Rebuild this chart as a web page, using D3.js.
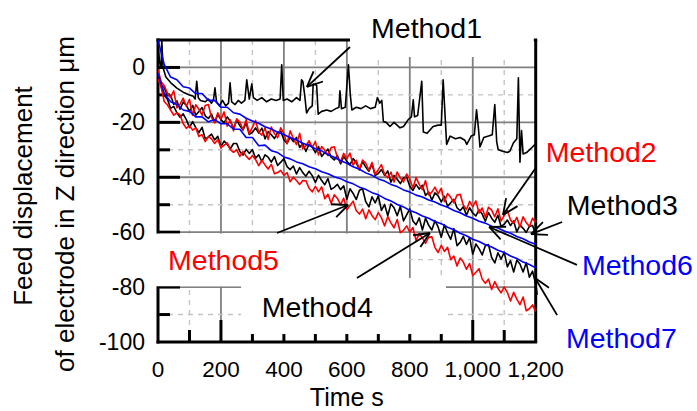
<!DOCTYPE html>
<html><head><meta charset="utf-8">
<script src="https://cdn.jsdelivr.net/npm/d3@7"></script>
<style>
body{margin:0;background:#fff}
svg{display:block}
text{font-family:"Liberation Sans",Arial,sans-serif}
</style>
</head><body>
<svg id="chart" width="697" height="411"></svg>
<script>
// ---------------- data ----------------
// Method1 (black, spiky) — irregular sampling
const m1Time = [0,5,10,12,16,25,40,60,80,100,112,118,123,128,135,150,160,170,176,181,186,195,205,215,224,229,234,245,255,265,276,282,290,298,303,315,330,345,360,375,388,393,398,410,425,440,451,456,460,466,472,480,490,493,504,509,520,536,550,565,575,578,583,595,605,611,616,630,645,660,675,690,697,705,711,716,725,737,750,769,780,795,805,811,815,825,838,843,855,874,890,900,906,917,928,945,960,975,981,995,1005,1012,1018,1023,1035,1050,1062,1070,1076,1081,1095,1110,1118,1129,1140,1145,1150,1155,1160,1171,1185,1198,1200];
const m1Value = [8,2,0,10,0,-3.5,-5.5,-7.5,-9,-10,-10.5,-11.5,-5,-11,-12,-12.5,-11.5,-13,-12,-7.4,-12.5,-14,-12,-14,-13,-5.6,-12.5,-13.5,-12,-13,-12,-4.5,-11.5,-6,-11,-12,-11,-12.5,-11.5,-12,-11.5,1,-12,-11.5,-12.5,-11,-12,-4.5,-5,-10,-16.6,-15,-14,-6,-6.5,-17,-16,-15.5,-16,-15,-14.5,-8.5,-15,-14.5,1,-10,-15.5,-14.5,-15,-14,-15,-14.5,-11,-13,-12,-19.7,-20,-21.5,-20,-22,-21.5,-19,-18,-11.8,-18,-17.5,-5,-23.5,-24,-21.5,-21,-21,-4.5,-28,-25,-26,-25.5,-26.5,-28,-25,-24.5,-15.4,-22,-29,-25.5,-25,-24.5,-13.5,-27,-30,-30.5,-31,-30.5,-27.5,-26,-3.8,-34.5,-23,-31.5,-31,-29.5,-28,-27.7];

// noisy series sampled every 10 s
const noisyTime = d3.range(0, 1201, 10);
const m2Value = [ // Method2, red (upper)
 -0.7,-5.3,-6.6,-9.4,-11,-8.5,-14.7,-13.4,-11.2,-14.1,
 -11.6,-17.4,-13.6,-15.2,-17.4,-13.9,-13.5,-18.2,-20.2,-16.5,
 -18.8,-16.2,-21.4,-19.1,-23.1,-18.7,-19.9,-22.6,-19,-24.1,
 -21.7,-19.3,-23.5,-24.7,-22,-26.2,-21.7,-24.1,-25.6,-22,
 -24.1,-27.8,-23.1,-25.9,-28.1,-24,-29.6,-28.5,-26.7,-29.1,
 -27,-31.9,-28.8,-30.2,-32.1,-29.2,-28.9,-32.8,-34.4,-31.3,
 -33.2,-31.2,-35.6,-33.8,-37.3,-33.7,-34.9,-37.4,-34.6,-39,
 -37.2,-35.4,-39,-40.2,-38.1,-41.7,-38.1,-40.3,-41.7,-38.8,
 -40.7,-43.9,-40.1,-42.6,-44.5,-41.2,-46.4,-45.4,-43.6,-46,
 -44,-48.9,-45.9,-47.3,-49.3,-46.5,-46.2,-50.1,-51.8,-48.8,
 -50.7,-48.6,-53,-51.2,-54.6,-50.9,-52,-54.4,-51.5,-55.9,
 -54,-52.1,-55.6,-56.7,-54.6,-58.1,-54.4,-56.5,-57.9,-54.9,
 -56.7];
const m3Value = [ // Method3, black (upper)
 -2.4,-6.4,-7.5,-10.1,-10.1,-13.4,-12.2,-15.2,-12.6,-13.8,
 -16,-13.8,-17.4,-16,-14.6,-17.6,-18.6,-17,-20,-17.2,
 -19,-20.2,-18,-19.6,-22.2,-19.2,-21.2,-22.8,-20.2,-24.4,
 -23.6,-22,-23.9,-22.1,-26,-23.4,-24.5,-25.9,-23.6,-23.2,
 -26.3,-27.7,-25.4,-27,-25.5,-29.1,-27.8,-30.6,-27.9,-28.9,
 -31,-28.8,-32.4,-31,-29.7,-32.7,-33.7,-32.1,-35.1,-32.4,
 -34.2,-35.4,-33.2,-34.7,-37.3,-34.3,-36.3,-37.8,-35.2,-39.4,
 -38.6,-37.2,-39.3,-37.7,-41.8,-39.4,-40.7,-42.3,-40.2,-40,
 -43.3,-44.8,-42.6,-44.3,-42.9,-46.6,-45.4,-48.3,-45.7,-46.8,
 -49,-46.9,-50.6,-49.3,-48,-51.1,-52.2,-50.7,-53.8,-51.1,
 -53,-54.1,-51.9,-53.4,-56,-52.9,-54.9,-56.4,-53.8,-57.9,
 -57.1,-55.6,-57.6,-55.9,-59.9,-57.4,-58.6,-60.1,-57.9,-57.6,
 -60.8];
const m4Value = [ // Method4, black (lower)
 -2,-6.8,-10.1,-11.6,-14.9,-14.2,-16.5,-18.2,-16.9,-19,
 -21.9,-19.7,-21.9,-23.7,-21.8,-26,-25.4,-24.3,-26.4,-25.1,
 -28.8,-26.8,-28,-29.6,-27.7,-27.7,-30.6,-31.9,-29.8,-31.3,
 -29.9,-33.1,-31.8,-34.3,-31.8,-32.7,-34.5,-32.5,-35.7,-34.5,
 -33.2,-36.1,-37.2,-35.9,-38.8,-36.5,-38.3,-39.6,-37.8,-39.4,
 -41.9,-39.3,-41.2,-42.7,-40.5,-44.4,-43.7,-42.6,-44.5,-43.1,
 -48,-44.2,-45.9,-48.1,-44.7,-44.2,-48.9,-50.8,-47.1,-49.3,
 -46.8,-52.1,-49.9,-54,-49.7,-51.1,-54,-50.6,-55.9,-53.7,
 -51.5,-55.9,-57.3,-54.8,-59.2,-54.9,-57.5,-59.2,-55.8,-58.1,
 -61.9,-57.3,-60.3,-62.6,-58.7,-64.9,-63.7,-61.5,-64.5,-62,
 -68,-64.3,-66,-68.3,-64.9,-64.5,-69.2,-71.2,-67.5,-69.8,
 -67.3,-72.6,-70.4,-74.5,-70.2,-71.6,-74.5,-71.1,-76.4,-74.2,
 -79];
const m5Value = [ // Method5, red (lower)
 -4.2,-7.2,-12.5,-13.6,-15.5,-17.4,-16.5,-17.2,-20.4,-22.2,
 -21.2,-22.8,-22,-25.1,-24.5,-27,-25.1,-26,-27.7,-26.3,
 -29.2,-28.3,-27.5,-29.9,-30.9,-29.9,-32.4,-30.6,-32.3,-33.5,
 -32.1,-33.6,-35.8,-33.8,-35.5,-37,-35.3,-38.7,-38.3,-37.5,
 -39.3,-38.3,-41.6,-40,-41.2,-42.6,-41.2,-41.3,-44,-45.3,
 -43.3,-45.3,-43.5,-47.8,-46.2,-49.5,-46.4,-47.7,-50,-47.6,
 -51.8,-50.3,-48.7,-52.2,-53.4,-51.6,-55.1,-51.9,-54,-55.4,
 -52.9,-54.8,-57.7,-54.3,-56.6,-58.4,-55.4,-60.2,-59.3,-57.7,
 -60,-58.3,-63.1,-60.5,-62.1,-64.1,-61.8,-61.7,-65.6,-67.4,
 -64.8,-67,-65.5,-70,-68.7,-72.3,-69.4,-70.9,-73.5,-71.4,
 -75.8,-74.6,-73.3,-77.1,-78.6,-77.1,-80.9,-78,-80.4,-82.1,
 -79.9,-82,-85.1,-81.9,-84.4,-86.4,-83.6,-88.6,-87.9,-86.5,
 -89];

// smoother (blue) series sampled every 20 s
const smoothTime = d3.range(0, 1201, 20);
const m6Value = [ // Method6, blue (upper)
 10,1,-3.5,-4.5,-7,-7.5,-9.5,-9.5,-12,-12,
 -14.5,-14.5,-16.5,-17,-18.5,-19.5,-20.3,-21.6,-22.4,-23.6,
 -24.4,-25.6,-26.4,-27.6,-28.4,-29.6,-30.4,-31.8,-32.7,-34,
 -34.9,-36.2,-37.1,-38.4,-39.3,-40.6,-41.4,-42.6,-43.4,-44.6,
 -45.4,-46.5,-47.2,-48.3,-49,-50.1,-50.9,-52.1,-52.9,-54.1,
 -54.9,-56,-56.7,-57.8,-58.5,-59.6,-60.4,-61.6,-62.4,-63.6,
 -64.4];
const m7Value = [ // Method7, blue (lower)
 -2,-9.5,-12.5,-13.5,-15.5,-16,-18,-18,-19.8,-19,
 -20.5,-20.5,-22.5,-22.5,-25.5,-25.5,-28.5,-28.3,-30.3,-31,
 -32.6,-33.3,-34.4,-35.1,-36.2,-36.9,-38,-38.7,-39.8,-40.5,
 -41.6,-42.4,-43.6,-44.4,-45.6,-46.4,-47.7,-48.6,-49.9,-50.8,
 -52.1,-52.9,-54.1,-54.9,-56.1,-56.9,-58.2,-59.1,-60.4,-61.3,
 -62.6,-63.4,-64.6,-65.4,-66.6,-67.4,-68.7,-69.6,-70.9,-71.8,
 -73];

const xTicks = [0,200,400,600,800,1000,1200];
const xTickLabels = ["0","200","400","600","800","1,000","1,200"];
const yTicks = [0,-20,-40,-60,-80,-100];
const yTickLabels = ["0","-20","-40","-60","-80","-100"];
const xTitle = "Time s";
const yTitle1 = "Feed displacement";
const yTitle2 = "of electrode in Z direction \u03bcm";

// method labels (left/baseline, data units) and arrows (from -> to, data units)
const labelText  = ["Method1","Method2","Method3","Method4","Method5","Method6","Method7"];
const labelColor = ["#000","#ff0000","#000","#000","#ff0000","#0000ff","#0000ff"];
const labelT     = [677, 1232, 1299, 330, 32, 1347, 1296];
const labelV     = [10.7, -34.4, -53.7, -90.9, -73.8, -75.6, -102.2];
const arrowFrom  = [[610,7.45],[1200,-36.6],[1284,-56.3],[632,-76.7],[378,-60.3],[1331,-71.9],[1268,-90.2]];
const arrowTo    = [[473,-7.1],[1096,-53.7],[1185,-60.7],[864,-60.3],[604,-50.1],[1052,-58.1],[1198,-76.7]];

// white label boxes that mask grid/frame (data units)
const maskBoxes = [
  {t0:610, t1:1194, v0:30, v1:3.8},
  {t0:-10, t1:797, v0:-60.5, v1:-79.7},
  {t0:264, t1:915, v0:-76.7, v1:-97.1}
];

// ---------------- drawing ----------------
const svg = d3.select("#chart");
const x = d3.scaleLinear([0,1200],[158,535.7]);
const y = d3.scaleLinear([-100,10],[342,40]);

// grid
const g = svg.append("g");
d3.range(100,1200,100).forEach(t=>{
  const major = t%200===0;
  g.append("line").attr("x1",x(t)).attr("x2",x(t)).attr("y1",y(10)).attr("y2",y(-100))
   .attr("stroke",major?"#808080":"#c4c4c4").attr("stroke-width",major?1.8:1.4)
   .attr("stroke-dasharray",major?null:"5,5");
});
d3.range(-90,10,10).forEach(v=>{
  const major = v%20===0;
  g.append("line").attr("x1",x(0)).attr("x2",x(1200)).attr("y1",y(v)).attr("y2",y(v))
   .attr("stroke",major?"#808080":"#c4c4c4").attr("stroke-width",major?1.8:1.4)
   .attr("stroke-dasharray",major?null:"5,5");
});

// inward ticks
const tk = svg.append("g").attr("stroke","#000").attr("stroke-width",3);
d3.range(100,1200,100).forEach(t=>{
  const L = t%200===0?22:12;
  tk.append("line").attr("x1",x(t)).attr("x2",x(t)).attr("y1",y(-100)).attr("y2",y(-100)-L);
});
d3.range(-90,10,10).forEach(v=>{
  const L = v%20===0?22:12;
  tk.append("line").attr("x1",x(0)).attr("x2",x(0)+L).attr("y1",y(v)).attr("y2",y(v));
});

// frame (left, bottom, top)
const fr = svg.append("g").attr("stroke","#000").attr("stroke-width",3).attr("stroke-linecap","square");
fr.append("line").attr("x1",x(0)).attr("x2",x(0)).attr("y1",y(10)).attr("y2",y(-100));
fr.append("line").attr("x1",x(0)).attr("x2",x(1200)).attr("y1",y(-100)).attr("y2",y(-100));
fr.append("line").attr("x1",x(0)).attr("x2",x(1200)).attr("y1",y(10)).attr("y2",y(10));

// masks
maskBoxes.forEach(b=>{
  svg.append("rect").attr("x",x(b.t0)).attr("y",y(b.v0))
    .attr("width",x(b.t1)-x(b.t0)).attr("height",y(b.v1)-y(b.v0)).attr("fill","#fff");
});
// right frame
svg.append("line").attr("x1",x(1200)).attr("x2",x(1200)).attr("y1",y(10)).attr("y2",y(-100))
  .attr("stroke","#000").attr("stroke-width",3);

// data lines
svg.append("clipPath").attr("id","clip").append("rect")
  .attr("x",x(0)).attr("y",y(10)).attr("width",x(1200)-x(0)).attr("height",y(-100)-y(10));
const dl = svg.append("g").attr("clip-path","url(#clip)").attr("fill","none")
  .attr("stroke-width",1.6).attr("stroke-linejoin","round");
const line = d3.line().x(d=>x(d[0])).y(d=>y(d[1]));
const zip = (ts,vs)=>ts.map((t,i)=>[t,vs[i]]);
const series = [
  {t:m1Time, v:m1Value, c:"#000"},
  {t:noisyTime, v:m3Value, c:"#000"},
  {t:noisyTime, v:m4Value, c:"#000"},
  {t:noisyTime, v:m2Value, c:"#ff0000"},
  {t:noisyTime, v:m5Value, c:"#ff0000"},
  {t:smoothTime, v:m6Value, c:"#0000ff"},
  {t:smoothTime, v:m7Value, c:"#0000ff"}
];
series.forEach(s=>{
  dl.append("path").attr("d",line(zip(s.t,s.v))).attr("stroke",s.c);
});

// arrows
const ar = svg.append("g").attr("stroke","#000").attr("stroke-width",1.8).attr("fill","none");
arrowFrom.forEach((f,i)=>{
  const to = arrowTo[i];
  const x1=x(f[0]), y1=y(f[1]), x2=x(to[0]), y2=y(to[1]);
  ar.append("line").attr("x1",x1).attr("y1",y1).attr("x2",x2).attr("y2",y2);
  const ang = Math.atan2(y1-y2, x1-x2), L=17, a=0.42;
  [ang-a, ang+a].forEach(b=>{
    ar.append("line").attr("x1",x2).attr("y1",y2)
      .attr("x2",x2+L*Math.cos(b)).attr("y2",y2+L*Math.sin(b));
  });
});

// labels
labelText.forEach((s,i)=>{
  svg.append("text").attr("x",x(labelT[i])).attr("y",y(labelV[i]))
    .attr("font-size",28.5).attr("fill",labelColor[i]).text(s);
});

// tick labels
svg.append("g").selectAll("text").data(xTicks).join("text")
  .attr("x",d=>x(d)).attr("y",y(-100)+35).attr("text-anchor","middle")
  .attr("font-size",22.5).text((d,i)=>xTickLabels[i]);
svg.append("g").selectAll("text").data(yTicks).join("text")
  .attr("x",x(0)-13).attr("y",d=>y(d)).attr("dy","0.34em").attr("text-anchor","end")
  .attr("font-size",23).text((d,i)=>yTickLabels[i]);

// axis titles
svg.append("text").attr("x",(x(0)+x(1200))/2).attr("y",405.5).attr("text-anchor","middle")
  .attr("font-size",25).text(xTitle);
svg.append("text").attr("transform","translate(32,196) rotate(-90)").attr("text-anchor","middle")
  .attr("font-size",26).text(yTitle1);
svg.append("text").attr("transform","translate(74,204) rotate(-90)").attr("text-anchor","middle")
  .attr("font-size",26).text(yTitle2);
</script>
</body></html>
